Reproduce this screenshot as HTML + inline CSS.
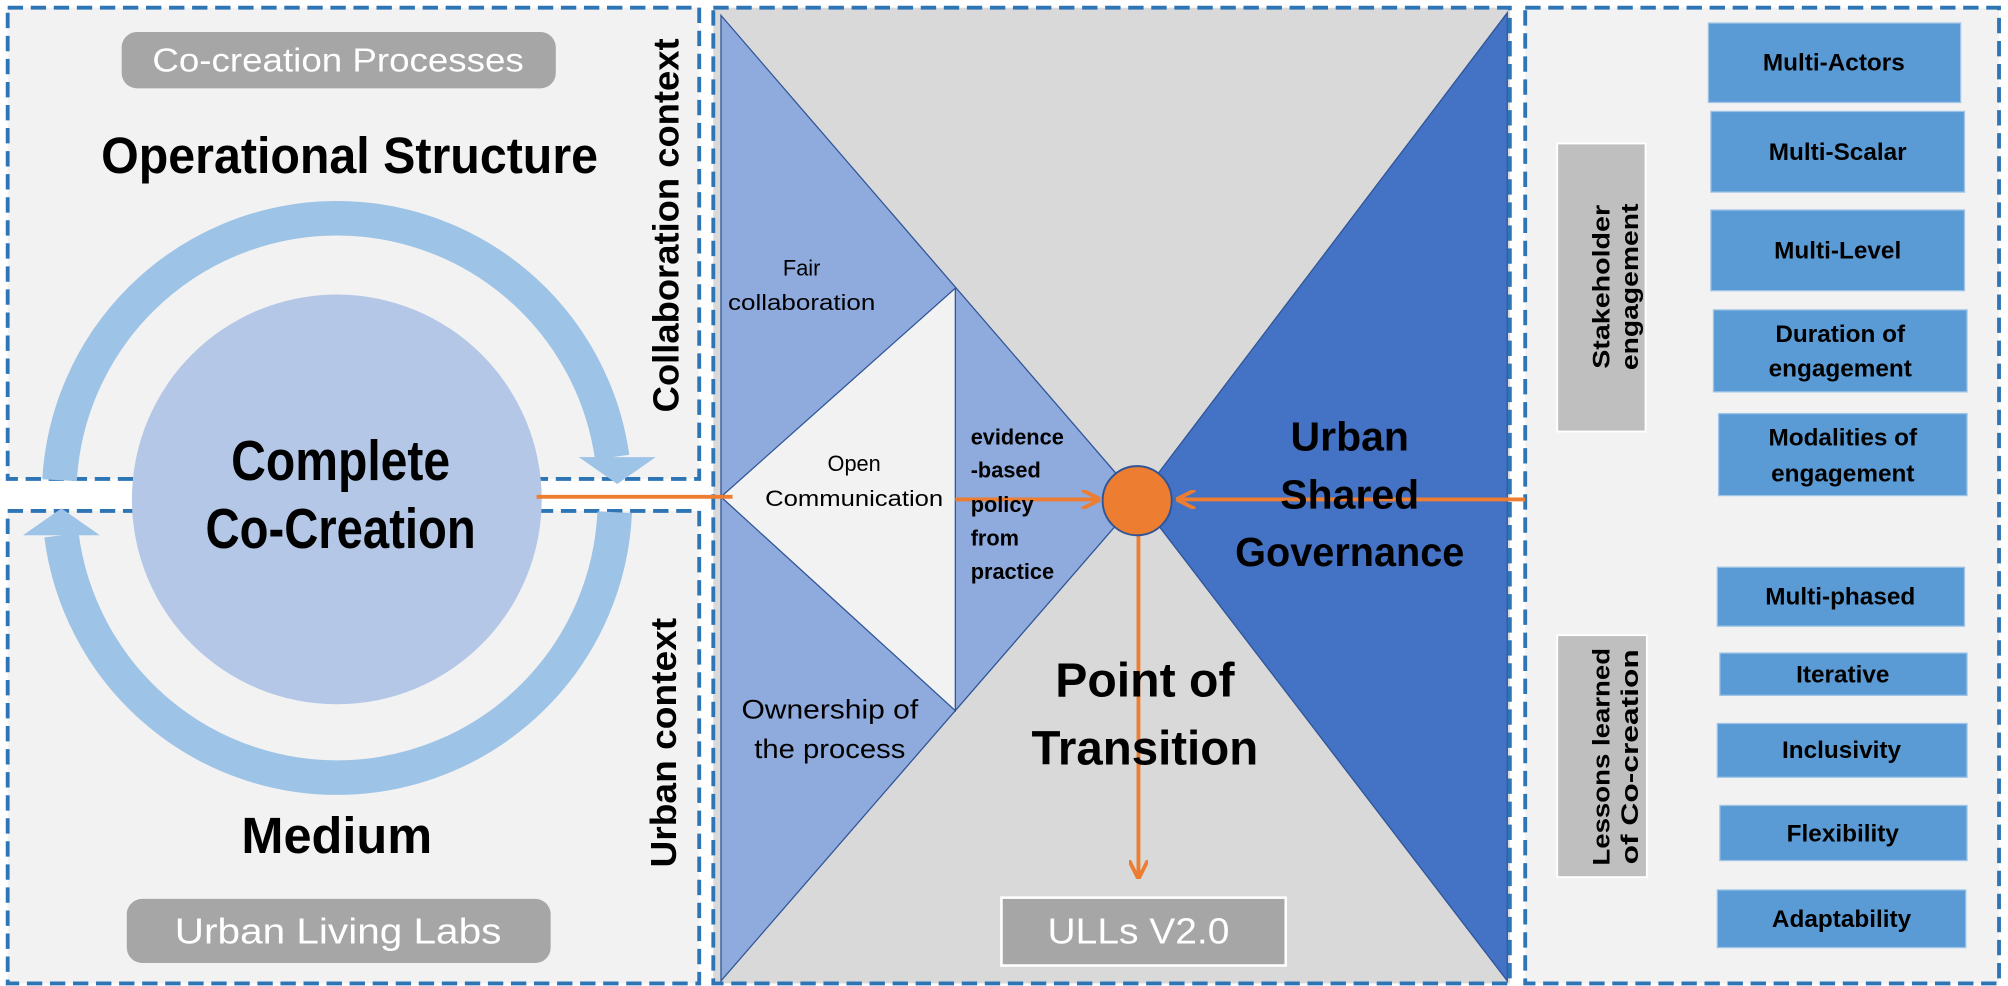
<!DOCTYPE html>
<html><head><meta charset="utf-8"><style>
html,body{margin:0;padding:0;background:#fff;}
svg{display:block;}
text{font-family:"Liberation Sans",sans-serif;}
</style></head><body>
<svg width="2008" height="986" viewBox="0 0 1568 770" preserveAspectRatio="none" xmlns="http://www.w3.org/2000/svg">
<defs>
<marker id="ah" viewBox="0 0 10 10" refX="9" refY="5" markerWidth="5" markerHeight="5" orient="auto">
<path d="M0,0 L10,5 L0,10" fill="none" stroke="#ed7d31" stroke-width="2"/>
</marker>
</defs>
<rect x="6" y="6" width="540" height="368" fill="#f2f2f2" stroke="#2e75b6" stroke-width="3" stroke-dasharray="12 6"/>
<rect x="6" y="399" width="540" height="369" fill="#f2f2f2" stroke="#2e75b6" stroke-width="3" stroke-dasharray="12 6"/>
<rect x="557" y="6" width="622" height="762" fill="#d9d9d9" stroke="#2e75b6" stroke-width="3" stroke-dasharray="12 6"/>
<rect x="1191" y="6" width="370" height="762" fill="#f2f2f2" stroke="#2e75b6" stroke-width="3" stroke-dasharray="12 6"/>

<polygon points="563,12 889,390 563,766" fill="#8faadc" stroke="#2f5597" stroke-width="1"/>
<polygon points="563,388 746,225 746,555" fill="#f2f2f2" stroke="#2f5597" stroke-width="1"/>
<polygon points="1177,10 889,390 1177,766" fill="#4472c4" stroke="#2f5597" stroke-width="1"/>

<path d="M46.5 375 A217 217 0 0 1 478 357" fill="none" stroke="#9dc3e6" stroke-width="27"/>
<polygon points="452,357 512,357 482,378" fill="#9dc3e6"/>
<path d="M480 400 A217 217 0 0 1 48 418" fill="none" stroke="#9dc3e6" stroke-width="27"/>
<polygon points="18,418 78,418 48,397" fill="#9dc3e6"/>
<circle cx="263" cy="390" r="160" fill="#b4c7e7"/>

<rect x="95" y="25" width="339" height="44" rx="12" fill="#a6a6a6"/>
<text x="264" y="56" font-size="26" fill="#fff" text-anchor="middle" textLength="290" lengthAdjust="spacingAndGlyphs">Co-creation Processes</text>
<rect x="99" y="702" width="331" height="50" rx="12" fill="#a6a6a6"/>
<text x="264" y="737" font-size="28" fill="#fff" text-anchor="middle" textLength="255" lengthAdjust="spacingAndGlyphs">Urban Living Labs</text>

<text x="273" y="135" font-size="40" font-weight="bold" text-anchor="middle" textLength="388" lengthAdjust="spacingAndGlyphs">Operational Structure</text>
<text x="266" y="375" font-size="44" font-weight="bold" text-anchor="middle" textLength="171" lengthAdjust="spacingAndGlyphs">Complete</text>
<text x="266" y="428" font-size="44" font-weight="bold" text-anchor="middle" textLength="211" lengthAdjust="spacingAndGlyphs">Co-Creation</text>
<text x="263" y="666" font-size="40" font-weight="bold" text-anchor="middle" textLength="149" lengthAdjust="spacingAndGlyphs">Medium</text>

<text transform="translate(530,176) rotate(-90)" font-size="28" font-weight="bold" text-anchor="middle" textLength="292" lengthAdjust="spacingAndGlyphs">Collaboration context</text>
<text transform="translate(528,580) rotate(-90)" font-size="28" font-weight="bold" text-anchor="middle" textLength="195" lengthAdjust="spacingAndGlyphs">Urban context</text>

<line x1="419" y1="388" x2="572" y2="388" stroke="#ed7d31" stroke-width="3"/>
<line x1="746" y1="390" x2="858" y2="390" stroke="#ed7d31" stroke-width="3" marker-end="url(#ah)"/>
<line x1="1191" y1="390" x2="920" y2="390" stroke="#ed7d31" stroke-width="3" marker-end="url(#ah)"/>
<line x1="889" y1="418" x2="889" y2="685" stroke="#ed7d31" stroke-width="3" marker-end="url(#ah)"/>
<circle cx="888" cy="391" r="27" fill="#ed7d31" stroke="#2f5597" stroke-width="1.5"/>

<text x="626" y="215" font-size="17" text-anchor="middle">Fair</text>
<text x="626" y="242" font-size="17" text-anchor="middle" textLength="115" lengthAdjust="spacingAndGlyphs">collaboration</text>
<text x="667" y="368" font-size="17" text-anchor="middle">Open</text>
<text x="667" y="395" font-size="17" text-anchor="middle" textLength="139" lengthAdjust="spacingAndGlyphs">Communication</text>
<g font-size="17" font-weight="bold">
<text x="758" y="347">evidence</text>
<text x="758" y="373">-based</text>
<text x="758" y="400">policy</text>
<text x="758" y="426">from</text>
<text x="758" y="452">practice</text>
</g>
<text x="648" y="561" font-size="21" text-anchor="middle" textLength="138" lengthAdjust="spacingAndGlyphs">Ownership of</text>
<text x="648" y="592" font-size="21" text-anchor="middle" textLength="118" lengthAdjust="spacingAndGlyphs">the process</text>

<g font-size="32" font-weight="bold" text-anchor="middle">
<text x="1054" y="352">Urban</text>
<text x="1054" y="397">Shared</text>
<text x="1054" y="442" textLength="179" lengthAdjust="spacingAndGlyphs">Governance</text>
</g>
<text x="894" y="544" font-size="38" font-weight="bold" text-anchor="middle" textLength="140" lengthAdjust="spacingAndGlyphs">Point of</text>
<text x="894" y="597" font-size="38" font-weight="bold" text-anchor="middle" textLength="177" lengthAdjust="spacingAndGlyphs">Transition</text>

<rect x="782" y="701" width="222" height="53" fill="#a6a6a6" stroke="#fff" stroke-width="2"/>
<text x="889" y="737" font-size="28" fill="#fff" text-anchor="middle" textLength="142" lengthAdjust="spacingAndGlyphs">ULLs V2.0</text>

<rect x="1216" y="112" width="69" height="225" fill="#bfbfbf" stroke="#fff" stroke-width="1.5"/>
<text transform="translate(1257,224) rotate(-90)" font-size="19" font-weight="bold" text-anchor="middle" textLength="128" lengthAdjust="spacingAndGlyphs">Stakeholder</text>
<text transform="translate(1279,224) rotate(-90)" font-size="19" font-weight="bold" text-anchor="middle" textLength="130" lengthAdjust="spacingAndGlyphs">engagement</text>
<rect x="1216" y="496" width="70" height="189" fill="#bfbfbf" stroke="#fff" stroke-width="1.5"/>
<text transform="translate(1257,591) rotate(-90)" font-size="19" font-weight="bold" text-anchor="middle" textLength="170" lengthAdjust="spacingAndGlyphs">Lessons learned</text>
<text transform="translate(1279,591) rotate(-90)" font-size="19" font-weight="bold" text-anchor="middle" textLength="168" lengthAdjust="spacingAndGlyphs">of Co-creation</text>

<g fill="#5b9bd5" stroke="#9dc3e6" stroke-width="1">
<rect x="1334" y="18" width="197" height="62"/>
<rect x="1336" y="87" width="198" height="63"/>
<rect x="1336" y="164" width="198" height="63"/>
<rect x="1338" y="242" width="198" height="64"/>
<rect x="1342" y="323" width="194" height="64"/>
<rect x="1341" y="443" width="193" height="46"/>
<rect x="1343" y="510" width="193" height="33"/>
<rect x="1341" y="565" width="195" height="42"/>
<rect x="1343" y="629" width="193" height="43"/>
<rect x="1341" y="695" width="194" height="45"/>
</g>
<g font-size="19" font-weight="bold" text-anchor="middle">
<text x="1432" y="55">Multi-Actors</text>
<text x="1435" y="125">Multi-Scalar</text>
<text x="1435" y="202">Multi-Level</text>
<text x="1437" y="267">Duration of</text>
<text x="1437" y="294">engagement</text>
<text x="1439" y="348">Modalities of</text>
<text x="1439" y="376">engagement</text>
<text x="1437" y="472">Multi-phased</text>
<text x="1439" y="533">Iterative</text>
<text x="1438" y="592">Inclusivity</text>
<text x="1439" y="657">Flexibility</text>
<text x="1438" y="724">Adaptability</text>
</g>
</svg>
</body></html>
